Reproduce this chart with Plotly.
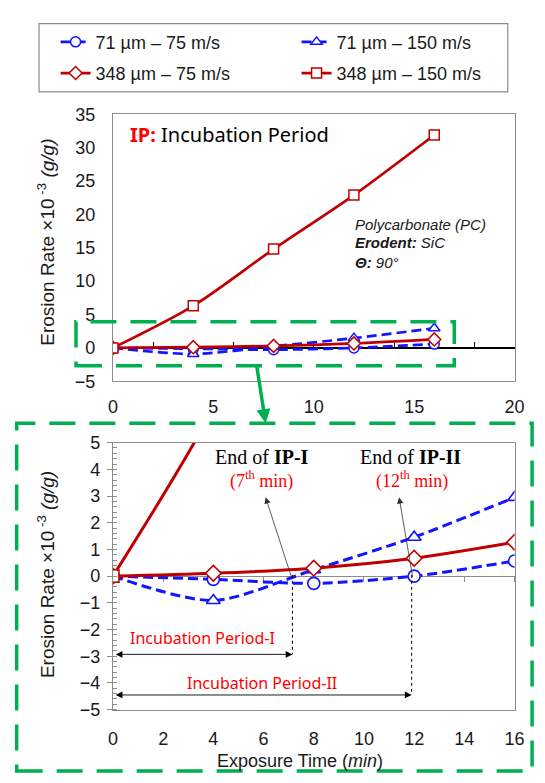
import plotly.graph_objects as go

W, H = 545, 783


def px(x):
    return x / W


def py(y):
    return 1 - y / H


# ---------------- data ----------------
time = [0, 4, 8, 12, 16]
er_71_75 = [0, -0.12, -0.27, 0.0, 0.57]
er_71_150 = [0, -0.91, 0.24, 1.46, 2.95]
er_348_75 = [0, 0.11, 0.30, 0.67, 1.27]
er_348_150 = [0, 6.3, 14.8, 22.9, 31.9]

series_names = ["71 µm – 75 m/s", "71 µm – 150 m/s", "348 µm – 75 m/s", "348 µm – 150 m/s"]
series_values = [er_71_75, er_71_150, er_348_75, er_348_150]

top_xticks = [0, 5, 10, 15, 20]
top_yticks = [-5, 0, 5, 10, 15, 20, 25, 30, 35]
bot_xticks = [0, 2, 4, 6, 8, 10, 12, 14, 16]
bot_yticks = [-5, -4, -3, -2, -1, 0, 1, 2, 3, 4, 5]

# ---------------- styles ----------------
BLUE = "#1414FF"
RED = "#C00000"
GREEN = "#00B050"
GRAY = "#8C8C8C"
styles = [
    dict(color=BLUE, dash="10px,5px", symbol="circle", legend="legend"),
    dict(color=BLUE, dash="10px,5px", symbol="triangle-up", legend="legend"),
    dict(color=RED, dash="solid", symbol="diamond", legend="legend2"),
    dict(color=RED, dash="solid", symbol="square", legend="legend2"),
]

fig = go.Figure()

for name, vals, st in zip(series_names, series_values, styles):
    fig.add_trace(go.Scatter(
        x=time, y=vals, name=name, mode="lines+markers",
        line=dict(color=st["color"], dash=st["dash"], width=2.7, shape="spline", smoothing=0.8),
        marker=dict(symbol=st["symbol"], size=10, color="white",
                    line=dict(width=1.5, color=st["color"])),
        xaxis="x", yaxis="y", legend=st["legend"], showlegend=True,
    ))
for name, vals, st in zip(series_names, series_values, styles):
    fig.add_trace(go.Scatter(
        x=time, y=vals, name=name, mode="lines+markers",
        line=dict(color=st["color"], dash=st["dash"], width=3, shape="spline", smoothing=0.8),
        marker=dict(symbol=st["symbol"], size=12, color="white",
                    line=dict(width=1.6, color=st["color"])),
        xaxis="x2", yaxis="y2", showlegend=False, cliponaxis=True,
    ))

fig.add_trace(go.Scatter(x=time, y=[None] * len(time), xaxis="x3", yaxis="y",
                         showlegend=False, hoverinfo="skip", mode="lines"))
fig.add_trace(go.Scatter(x=time, y=[None] * len(time), xaxis="x4", yaxis="y2",
                         showlegend=False, hoverinfo="skip", mode="lines"))

top_dom_x = [px(111), px(524)]
top_dom_y = [py(381), py(107)]
bot_dom_x = [px(111), px(524)]
bot_dom_y = [py(718), py(444)]

top_zero = top_dom_y[0] + (0 - (-5)) / 40 * (top_dom_y[1] - top_dom_y[0])
bot_zero = bot_dom_y[0] + (0 - (-5)) / 10 * (bot_dom_y[1] - bot_dom_y[0])

axis_font = dict(family="Liberation Sans, Arial", size=18, color="#1a1a1a")
leg_font = dict(family="Liberation Sans, Arial", size=18, color="#1a1a1a")

fig.update_layout(
    width=W, height=H, autosize=False,
    margin=dict(l=0, r=0, t=0, b=0),
    paper_bgcolor="white", plot_bgcolor="white",
    font=dict(family="Liberation Sans, Arial", size=16, color="#1a1a1a"),
    xaxis=dict(domain=top_dom_x, anchor="y", range=[0, 20], tickvals=top_xticks,
               showline=True, mirror=True, linecolor=GRAY, linewidth=1.2,
               ticks="", showgrid=False, zeroline=False, tickfont=axis_font,
               ticklabelstandoff=9),
    yaxis=dict(domain=top_dom_y, anchor="x", range=[-5, 35], tickvals=top_yticks,
               showline=True, mirror=True, linecolor=GRAY, linewidth=1.2,
               ticks="", showgrid=False, zeroline=False, tickfont=axis_font,
               ticklabelstandoff=13),
    xaxis3=dict(overlaying="x", anchor="free", position=top_zero, range=[0, 20],
                dtick=2, tick0=0, ticks="inside", ticklen=5, tickcolor="#000000",
                tickwidth=1.2, showline=True, linecolor="#000000", linewidth=1.6,
                showticklabels=False, showgrid=False, zeroline=False,
                layer="below traces"),
    xaxis2=dict(domain=bot_dom_x, anchor="y2", range=[0, 16], tickvals=bot_xticks,
                showline=True, mirror=True, linecolor=GRAY, linewidth=1.2,
                ticks="", showgrid=False, zeroline=False, tickfont=axis_font,
                ticklabelstandoff=13),
    yaxis2=dict(domain=bot_dom_y, anchor="x2", range=[-5, 5], tickvals=bot_yticks,
                showline=True, mirror=True, linecolor=GRAY, linewidth=1.2,
                ticks="outside", ticklen=5, tickcolor=GRAY, tickwidth=1.2,
                minor=dict(dtick=0.2, ticks="inside", ticklen=4, tickcolor=GRAY, tickwidth=1),
                showgrid=False, zeroline=False, tickfont=axis_font,
                ticklabelstandoff=3),
    xaxis4=dict(overlaying="x2", anchor="free", position=bot_zero, range=[0, 16],
                dtick=2, tick0=0, ticks="outside", ticklen=5, tickcolor=GRAY,
                tickwidth=1.2, showline=True, linecolor=GRAY, linewidth=1.4,
                showticklabels=False, showgrid=False, zeroline=False,
                layer="below traces"),
    legend=dict(orientation="h", x=px(52), y=py(33), xanchor="left", yanchor="middle",
                entrywidth=196, entrywidthmode="pixels", bgcolor="rgba(0,0,0,0)",
                font=leg_font, traceorder="normal"),
    legend2=dict(orientation="h", x=px(52), y=py(65), xanchor="left", yanchor="middle",
                 entrywidth=196, entrywidthmode="pixels", bgcolor="rgba(0,0,0,0)",
                 font=leg_font, traceorder="normal"),
)

shapes = [
    dict(type="rect", xref="paper", yref="paper", x0=px(35), x1=px(517), y0=py(84), y1=py(14),
         line=dict(color=GRAY, width=1.2)),
    dict(type="rect", xref="paper", yref="paper", x0=px(73), x1=px(462), y0=py(365), y1=py(320),
         line=dict(color=GREEN, width=3.5, dash="26px,14px")),
    dict(type="rect", xref="paper", yref="paper", x0=px(12), x1=px(542), y0=py(781), y1=py(424),
         line=dict(color=GREEN, width=3.5, dash="26px,14px")),
    dict(type="line", xref="x2", yref="y2", x0=7.15, x1=7.15, y0=0.05, y1=-2.93,
         line=dict(color="#000000", width=1, dash="dot")),
    dict(type="line", xref="x2", yref="y2", x0=11.9, x1=11.9, y0=0.05, y1=-4.45,
         line=dict(color="#000000", width=1, dash="dot")),
]
fig.update_layout(shapes=shapes)

title_y = "Erosion Rate ×10<sup> -3</sup> <i>(g/g)</i>"
serif = "Liberation Serif, Times New Roman"
comic = "Comic Sans MS, Noto Sans"
C = dict(xanchor="center", yanchor="middle")
L = dict(xanchor="left", yanchor="middle")

ann = [
    dict(text=title_y, x=px(42), y=py(238), xref="paper", yref="paper", textangle=-90,
         showarrow=False, font=dict(size=19, color="#1a1a1a"), **C),
    dict(text=title_y, x=px(42), y=py(579), xref="paper", yref="paper", textangle=-90,
         showarrow=False, font=dict(size=19, color="#1a1a1a"), **C),
    dict(text="Exposure Time (<i>min</i>)", x=px(303), y=py(771), xref="paper", yref="paper",
         showarrow=False, font=dict(size=18, color="#1a1a1a"), **C),
    dict(text="<span style='color:#FF0000'><b>IP:</b></span> Incubation Period",
         x=px(126), y=py(128), xref="paper", yref="paper", showarrow=False,
         font=dict(family=comic, size=20, color="#000000"), **L),
    dict(text="<i>Polycarbonate (PC)</i>", x=px(358), y=py(220), xref="paper", yref="paper",
         showarrow=False, font=dict(size=15, color="#1a1a1a"), **L),
    dict(text="<b><i>Erodent:</i></b><i> SiC</i>", x=px(358), y=py(239), xref="paper", yref="paper",
         showarrow=False, font=dict(size=15, color="#1a1a1a"), **L),
    dict(text="<b><i>Θ:</i></b><i> 90°</i>", x=px(358), y=py(259), xref="paper", yref="paper",
         showarrow=False, font=dict(size=15, color="#1a1a1a"), **L),
    dict(text="", x=px(268), y=py(424), xref="paper", yref="paper", ax=-9, ay=-58,
         showarrow=True, arrowhead=2, arrowsize=0.8, arrowwidth=3.5, arrowcolor=GREEN, **C),
    dict(text="End of <b>IP-I</b>", x=px(264), y=py(459), xref="paper", yref="paper",
         showarrow=False, font=dict(family=serif, size=20, color="#000000"), **C),
    dict(text="(7<sup>th</sup> min)", x=px(264), y=py(482), xref="paper", yref="paper",
         showarrow=False, font=dict(family=serif, size=18, color="#FF0000"), **C),
    dict(text="End of <b>IP-II</b>", x=px(417), y=py(459), xref="paper", yref="paper",
         showarrow=False, font=dict(family=serif, size=20, color="#000000"), **C),
    dict(text="(12<sup>th</sup> min)", x=px(419), y=py(482), xref="paper", yref="paper",
         showarrow=False, font=dict(family=serif, size=18, color="#FF0000"), **C),
    dict(text="", x=6.08, y=2.96, ax=7.15, ay=-0.15, xref="x2", yref="y2", axref="x2", ayref="y2",
         showarrow=True, arrowhead=2, arrowsize=1.6, arrowwidth=0.8, arrowcolor="#333333", **C),
    dict(text="", x=11.4, y=2.96, ax=11.95, ay=-0.1, xref="x2", yref="y2", axref="x2", ayref="y2",
         showarrow=True, arrowhead=2, arrowsize=1.6, arrowwidth=0.8, arrowcolor="#333333", **C),
    dict(text="", x=7.15, y=-2.93, ax=0.05, ay=-2.93, xref="x2", yref="y2", axref="x2", ayref="y2",
         showarrow=True, arrowside="end+start", arrowhead=2, startarrowhead=2, arrowsize=1.5,
         startarrowsize=1.5, arrowwidth=0.9, arrowcolor="#000000", **C),
    dict(text="", x=11.9, y=-4.45, ax=0.05, ay=-4.45, xref="x2", yref="y2", axref="x2", ayref="y2",
         showarrow=True, arrowside="end+start", arrowhead=2, startarrowhead=2, arrowsize=1.5,
         startarrowsize=1.5, arrowwidth=0.9, arrowcolor="#000000", **C),
    dict(text="Incubation Period-I", x=3.57, y=-2.3, xref="x2", yref="y2", showarrow=False,
         font=dict(family=comic, size=16, color="#FF0000"), **C),
    dict(text="Incubation Period-II", x=5.93, y=-4.0, xref="x2", yref="y2", showarrow=False,
         font=dict(family=comic, size=16, color="#FF0000"), **C),
]
fig.update_layout(annotations=ann)

fig.write_html(
    "out.html",
    config={"displayModeBar": False},
    post_script="document.body.style.margin='0px';document.body.style.overflow='hidden';",
)
